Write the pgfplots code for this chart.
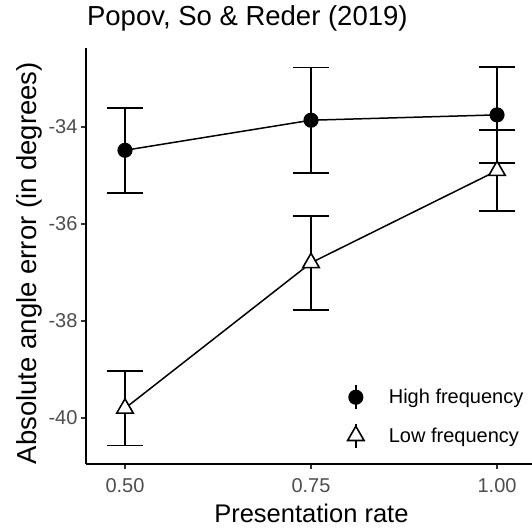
\documentclass[border=0pt]{standalone}
\usepackage{pgfplots}
\pgfplotsset{compat=1.18}
\usepackage{fontspec}
\setmainfont{Liberation Sans}
\definecolor{ticktext}{HTML}{4D4D4D}

% Mean absolute angle error by presentation rate, with error bars
\pgfplotstableread{
rate  mean    err
0.50  -34.48  0.876
0.75  -33.86  1.09
1.00  -33.75  0.99
}\highfreq
\pgfplotstableread{
rate  mean    err
0.50  -39.80  0.77
0.75  -36.80  0.97
1.00  -34.90  0.835
}\lowfreq

\begin{document}
\begin{tikzpicture}[x=1bp,y=1bp]
\useasboundingbox (0,0) rectangle (532,531);
\begin{axis}[
  at={(86bp,67bp)}, anchor=south west,
  scale only axis, width=446bp, height=416bp,
  xmin=0.4476, xmax=1.047, ymin=-40.948, ymax=-32.371,
  axis x line=bottom, axis y line=left,
  axis line style={-, line width=1.5bp, black},
  xtick={0.5,0.75,1}, xticklabels={0.50,0.75,1.00},
  ytick={-40,-38,-36,-34}, yticklabels={-40,-38,-36,-34},
  tick align=outside, major tick length=5bp,
  tick style={line width=1.2bp, black!80},
  ticklabel style={font=\fontsize{20bp}{23bp}\selectfont, text=ticktext},
  xticklabel style={yshift=-6bp},
  title={Popov, So \& Reder (2019)},
  title style={at={(axis description cs:0.002,1.0385)}, anchor=base west,
    font=\fontsize{27.5bp}{31bp}\selectfont, inner sep=0pt},
  xlabel={Presentation rate},
  xlabel style={at={(axis description cs:0.5054,-0.1418)}, anchor=base,
    font=\fontsize{25.5bp}{29bp}\selectfont, inner sep=0pt},
  ylabel={Absolute angle error (in degrees)},
  ylabel style={at={(axis description cs:-0.1099,0.483)}, anchor=base,
    font=\fontsize{27.5bp}{31bp}\selectfont, inner sep=0pt},
  legend style={at={(axis description cs:0.99,0.032)}, anchor=south east,
    draw=none, fill=none, font=\fontsize{20bp}{24bp}\selectfont,
    row sep=13bp, nodes={inner sep=1bp}},
  legend cell align=left,
  error bars/y dir=both, error bars/y explicit,
  error bars/error mark=|,
  error bars/error mark options={mark size=18bp, line width=1.5bp, black},
  error bars/error bar style={line width=1.5bp, black},
]
\addplot[black, line width=1.5bp, mark=*, mark size=6.8bp,
  legend image code/.code={
    \path[draw=none] (-10bp,0bp) -- (32bp,0bp);
    \draw[line width=1.5bp] (0bp,-12bp) -- (0bp,12bp);
    \fill (0bp,0bp) circle (6.8bp);}]
  table[x=rate, y=mean, y error=err] {\highfreq};
\addlegendentry{High frequency}
\addplot[black, line width=1.5bp, mark=triangle*, mark size=9.5bp,
  mark options={fill=white, line width=1.6bp},
  legend image code/.code={
    \path[draw=none] (-10bp,0bp) -- (32bp,0bp);
    \draw[line width=1.5bp] (0bp,-12bp) -- (0bp,12bp);
    \draw[line width=1.6bp, fill=white] plot[mark=triangle*, mark size=9.5bp] coordinates {(0bp,0bp)};}]
  table[x=rate, y=mean, y error=err] {\lowfreq};
\addlegendentry{Low frequency}
\end{axis}
\end{tikzpicture}
\end{document}
